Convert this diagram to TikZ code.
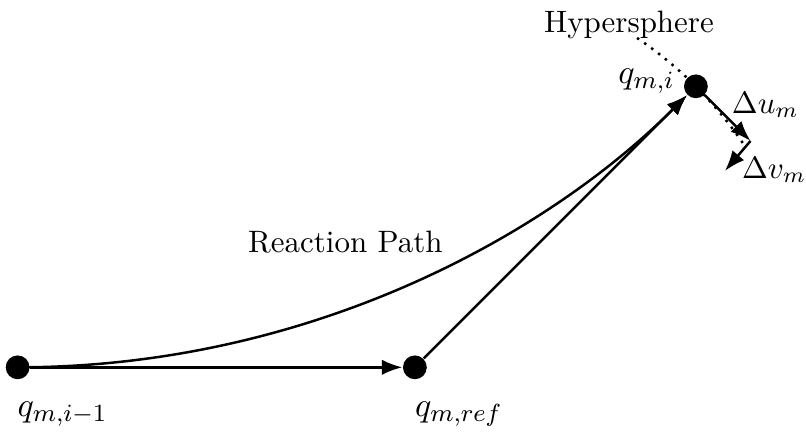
\documentclass[tikz,border=0pt]{standalone}
\usetikzlibrary{arrows.meta,positioning,calc}

\begin{document}
\begin{tikzpicture}[
  >=Latex,
  flow/.style={->, draw=black, line width=.8pt},
  pt/.style={circle, fill=black, inner sep=0pt, minimum size=2.7mm},
  guide/.style={dotted, line width=.8pt},
  qlabel/.style={font=\fontsize{11}{13}\selectfont}
]
\useasboundingbox (0,0) rectangle (9.15,4.94);

% points on the path
\node[pt] (prev) at (0.20,0.77) {};
\node[pt] (ref) at (4.71,0.77) {};
\node[pt] (cur) at (7.90,3.96) {};
\coordinate (du) at (8.52,3.34);
\coordinate (dv) at (8.23,3.00);

\node[qlabel] (lprev) at (0.71,0.24) {$q_{m,i-1}$};
\node[qlabel] (lref) at (5.21,0.24) {$q_{m,ref}$};
\node[qlabel] (lcur) at (7.34,4.02) {$q_{m,i}$};

% steps
\draw[flow] (prev) -- (ref);
\draw[flow] (ref) -- (cur);
\draw[flow] (prev.center) .. controls (3.5,0.77) and (6.2,2.26) .. (cur);
\node (lpath) at (3.92,2.19) {Reaction Path};

% hypersphere around the reference point
\draw[guide] ($(ref.center)+(56:4.51)$) arc[start angle=56, end angle=34, radius=4.51];
\node (lsphere) at (7.14,4.66) {Hypersphere};

\draw[flow] (cur) -- (du);
\draw[flow] (du) -- (dv);
\node (ldu) at (8.69,3.75) {$\Delta u_m$};
\node (ldv) at (8.79,3.01) {$\Delta v_m$};

\end{tikzpicture}
\end{document}
